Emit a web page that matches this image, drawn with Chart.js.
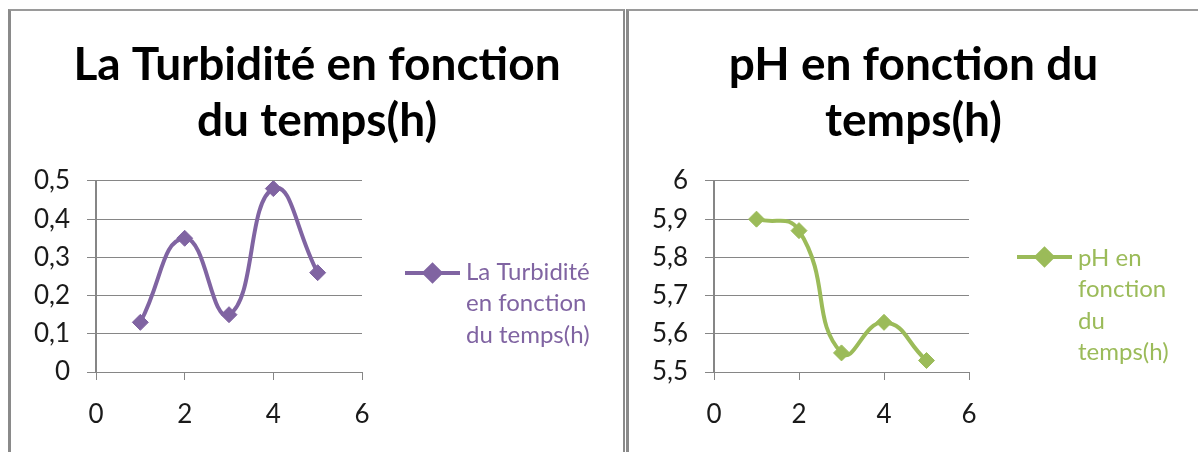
<!DOCTYPE html>
<html>
<head>
<meta charset="utf-8">
<script src="https://cdn.jsdelivr.net/npm/chart.js@4/dist/chart.umd.min.js"></script>
<style>
  html, body { margin: 0; padding: 0; background: #fff; }
  body { width: 1198px; height: 452px; position: relative; overflow: hidden; }
  .panel { position: absolute; box-sizing: border-box; }
  #p1 { left: 8px; top: 9px; width: 617px; height: 443px; border-left: 3px solid #8a8a8a; border-top: 2px solid #9a9a9a; border-right: 2px solid #8a8a8a; }
  #p2 { left: 626px; top: 9px; width: 572px; height: 443px; border-left: 3px solid #8a8a8a; border-top: 2px solid #9a9a9a; }
  canvas { position: absolute; }
  #c1 { left: 11px; top: 12px; }
  #c2 { left: 629px; top: 12px; }
</style>
</head>
<body>
<div class="panel" id="p1"></div>
<div class="panel" id="p2"></div>
<canvas id="c1" width="612" height="440"></canvas>
<canvas id="c2" width="569" height="440"></canvas>
<script>
// ---- data ----
const hours = [1, 2, 3, 4, 5];
const turbidity = [0.13, 0.35, 0.15, 0.48, 0.26];
const ph = [5.90, 5.87, 5.55, 5.63, 5.53];
const turbTickLabels = ['0', '0,1', '0,2', '0,3', '0,4', '0,5'];
const phTickLabels = ['5,5', '5,6', '5,7', '5,8', '5,9', '6'];
const xTickLabels = ['0', '2', '4', '6'];
const turbTitle = ['La Turbidité en fonction', 'du temps(h)'];
const phTitle = ['pH en fonction du', 'temps(h)'];
const turbLabel = 'La Turbidité en fonction du temps(h)';
const phLabel = 'pH en fonction du temps(h)';
const turbLegendLines = ['La Turbidité', 'en fonction', 'du temps(h)'];
const phLegendLines = ['pH en', 'fonction', 'du', 'temps(h)'];

const PURPLE = '#8064a2';
const GREEN = '#9bbb59';
const GRID = '#868686';
const FONT = 'Lato, "Open Sans", sans-serif';

const sideLegend = {
  id: 'sideLegend',
  afterDraw(chart, args, o) {
    const ctx = chart.ctx;
    const ds = chart.data.datasets[0];
    const ca = chart.chartArea;
    const x0 = ca.right + o.offset;
    ctx.save();
    ctx.strokeStyle = ds.borderColor;
    ctx.lineWidth = 4;
    ctx.beginPath();
    ctx.moveTo(x0, o.lineY);
    ctx.lineTo(x0 + o.lineLen, o.lineY);
    ctx.stroke();
    ctx.fillStyle = ds.borderColor;
    Chart.helpers.drawPoint(ctx, { pointStyle: 'rectRot', radius: 8, borderWidth: 1 }, x0 + o.lineLen / 2, o.lineY);
    ctx.font = '24px ' + FONT;
    ctx.textBaseline = 'middle';
    ctx.textAlign = 'left';
    o.lines.forEach((t, i) => ctx.fillText(t, x0 + o.lineLen + 6, o.textY + i * o.lineGap));
    ctx.restore();
  }
};

function makeChart(id, values, label, color, title, yMin, yMax, yLabels, legendWidth, legendOpts) {
  return new Chart(document.getElementById(id), {
    type: 'line',
    data: {
      datasets: [{
        label: label,
        data: hours.map((h, i) => ({ x: h, y: values[i] })),
        borderColor: color,
        backgroundColor: color,
        borderWidth: 4,
        tension: 0.5,
        pointStyle: 'rectRot',
        pointRadius: 8,
        pointBorderWidth: 1,
        pointBackgroundColor: color,
        pointBorderColor: color,
        fill: false,
        yAxisID: 'y'
      }]
    },
    options: {
      responsive: false,
      animation: false,
      devicePixelRatio: 1,
      layout: { padding: 0 },
      plugins: {
        legend: { display: false },
        tooltip: { enabled: false },
        title: {
          display: true,
          text: title,
          color: '#000',
          font: { family: FONT, size: 46, weight: 'bold', lineHeight: 1.217 },
          padding: { top: 25, bottom: 32 }
        },
        sideLegend: legendOpts
      },
      scales: {
        x: {
          type: 'linear',
          min: 0, max: 6,
          afterFit(s) { s.height = 80; },
          ticks: {
            stepSize: 2,
            color: '#1a1a1a',
            padding: 19,
            font: { family: FONT, size: 26 },
            callback: (v, i) => xTickLabels[i]
          },
          grid: { drawOnChartArea: false, drawTicks: true, tickLength: 8, color: GRID, lineWidth: 1 },
          border: { display: true, color: GRID, width: 1 }
        },
        y: {
          position: 'left',
          min: yMin, max: yMax,
          afterFit(s) { s.width = 85; },
          ticks: {
            stepSize: 0.1,
            color: '#1a1a1a',
            padding: 17,
            font: { family: FONT, size: 26 },
            callback: (v, i) => yLabels[i]
          },
          grid: { drawTicks: true, tickLength: 9, color: GRID, lineWidth: 1 },
          border: { display: true, color: GRID, width: 2 }
        },
        legendSpace: {
          position: 'right',
          afterFit(s) { s.width = legendWidth; },
          ticks: { display: false },
          grid: { display: false },
          border: { display: false }
        }
      }
    },
    plugins: [sideLegend]
  });
}

makeChart('c1', turbidity, turbLabel, PURPLE, turbTitle, 0, 0.5, turbTickLabels, 261,
  { offset: 43, lineLen: 55, lineY: 261, textY: 260, lineGap: 31.5, lines: turbLegendLines });
makeChart('c2', ph, phLabel, GREEN, phTitle, 5.5, 6, phTickLabels, 229,
  { offset: 48, lineLen: 55, lineY: 245, textY: 246, lineGap: 31.5, lines: phLegendLines });
</script>
</body>
</html>
